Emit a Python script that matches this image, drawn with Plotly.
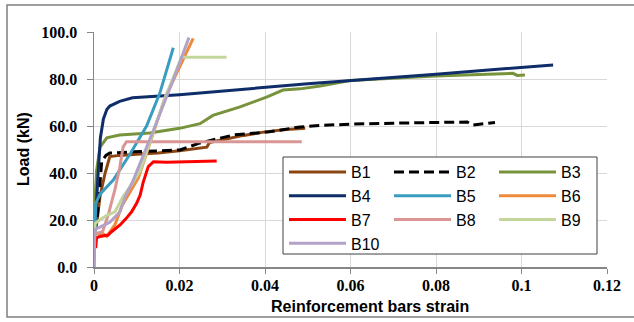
import plotly.graph_objects as go

# ---- data ----
names = ["B1", "B2", "B3", "B4", "B5", "B6", "B7", "B8", "B9", "B10"]

b1_x = [0, 0.0006, 0.0014, 0.0021, 0.0026, 0.0037, 0.006, 0.01, 0.015, 0.02, 0.025, 0.0264, 0.027, 0.035, 0.04, 0.045, 0.0494]
b1_y = [14, 18, 30, 36, 40, 47, 47.5, 48, 48.5, 49.5, 50.5, 51, 53, 56, 57.5, 58.5, 59]

b2_x = [0, 0.0008, 0.001, 0.0018, 0.0028, 0.0037, 0.0091, 0.0201, 0.0248, 0.0327, 0.0405, 0.0482, 0.0529, 0.0599, 0.07, 0.0873, 0.0885, 0.0938]
b2_y = [15, 22, 26, 45, 47.5, 48.5, 49, 49.8, 52.8, 56.2, 57.4, 59.6, 60.2, 60.8, 61.2, 61.7, 60.4, 61.5]

b3_x = [0, 0.0003, 0.0006, 0.0014, 0.003, 0.006, 0.013, 0.020, 0.0248, 0.0278, 0.034, 0.0405, 0.0442, 0.0482, 0.0529, 0.0599, 0.08, 0.098, 0.099, 0.1008]
b3_y = [20, 30, 41, 51, 55, 56.2, 57, 59, 61, 64.5, 68, 72.4, 75.3, 75.8, 77, 79.4, 81.3, 82.4, 81.5, 81.7]

b4_x = [0, 0.0004, 0.001, 0.0015, 0.0022, 0.003, 0.0037, 0.006, 0.009, 0.02, 0.05, 0.08, 0.1074]
b4_y = [16, 22, 41, 55, 63, 67, 68.5, 70.5, 72, 73.3, 78, 82, 86]

b5_x = [0, 0.0002, 0.0004, 0.0014, 0.0045, 0.0084, 0.0123, 0.0154, 0.01855]
b5_y = [0, 16, 27, 31, 37, 48, 60, 74, 93.3]

b6_x = [0, 0.0022, 0.003, 0.0049, 0.0065, 0.0104, 0.0166, 0.0232]
b6_y = [14, 14, 13, 18, 26, 38, 72, 97.3]

b7_x = [0.0004, 0.0006, 0.0014, 0.0033, 0.0041, 0.0061, 0.0076, 0.0088, 0.01, 0.0108, 0.0115, 0.0127, 0.0139, 0.017, 0.0287]
b7_y = [8, 12.4, 13, 13.6, 15, 17.9, 20.8, 23.5, 27.2, 30.6, 36, 42.7, 44.8, 44.6, 45.1]

b8_x = [0, 0.002, 0.0033, 0.0049, 0.006, 0.0068, 0.0076, 0.02, 0.0486]
b8_y = [14, 15, 22, 33, 42, 51, 53.3, 53.3, 53.3]

b9_x = [0, 0.0003, 0.003, 0.0049, 0.0068, 0.0088, 0.0108, 0.0166, 0.0205, 0.0217, 0.031]
b9_y = [14, 18.6, 22, 23.5, 30, 35, 41, 72, 89.3, 89.3, 89.3]

b10_x = [0, 0.0002, 0.0014, 0.0037, 0.0061, 0.0073, 0.0092, 0.0108, 0.0143, 0.0186, 0.0222]
b10_y = [0, 16, 17, 19, 23.5, 30, 37, 44, 60, 80, 97.6]

x_tickvals = [0, 0.02, 0.04, 0.06, 0.08, 0.1, 0.12]
x_ticktext = ["0", "0.02", "0.04", "0.06", "0.08", "0.1", "0.12"]
y_tickvals = [0, 20, 40, 60, 80, 100]
y_ticktext = ["0.0", "20.0", "40.0", "60.0", "80.0", "100.0"]

# ---- styles ----
series = [
    (b1_x, b1_y, "#8B4513", "solid", "legend"),
    (b2_x, b2_y, "#000000", "10px,5px", "legend2"),
    (b3_x, b3_y, "#77933C", "solid", "legend3"),
    (b4_x, b4_y, "#0F2D69", "solid", "legend"),
    (b5_x, b5_y, "#3A9CC0", "solid", "legend2"),
    (b6_x, b6_y, "#EE8A3A", "solid", "legend3"),
    (b7_x, b7_y, "#FF0000", "solid", "legend"),
    (b8_x, b8_y, "#D99694", "solid", "legend2"),
    (b9_x, b9_y, "#C3D69B", "solid", "legend3"),
    (b10_x, b10_y, "#B3A2C7", "solid", "legend"),
]

fig = go.Figure()
for name, (xs, ys, col, dash, lg) in zip(names, series):
    fig.add_trace(go.Scatter(x=xs, y=ys, mode="lines", name=name, legend=lg,
                             line=dict(color=col, width=3, dash=dash)))

W, H = 634, 322
L, R, T, B = 94, 27, 32, 55
pw, ph = W - L - R, H - T - B

def px_x(p):
    return (p - L) / pw

def px_y(p):
    return (H - B - p) / ph

tick_font = dict(family="Liberation Serif, DejaVu Serif, serif", size=16,
                 color="#000000", weight="bold")
leg_font = dict(family="Liberation Sans, Arial, sans-serif", size=16, color="#000000")
title_font = dict(family="Liberation Sans, Arial, sans-serif", size=16,
                  color="#000000", weight="bold")

fig.update_layout(
    width=W, height=H,
    margin=dict(l=L, r=R, t=T, b=B, autoexpand=False),
    paper_bgcolor="white", plot_bgcolor="white",
    xaxis=dict(range=[0, 0.12], tickvals=x_tickvals, ticktext=x_ticktext,
               showgrid=True, gridcolor="#D9D9D9", gridwidth=1,
               showline=True, linecolor="#868686", linewidth=1.5,
               ticks="outside", ticklen=5, tickcolor="#868686",
               tickfont=tick_font, zeroline=False, automargin=False,
               ticklabelstandoff=-2),
    yaxis=dict(range=[0, 100], tickvals=y_tickvals, ticktext=y_ticktext,
               showgrid=True, gridcolor="#D9D9D9", gridwidth=1,
               showline=True, linecolor="#868686", linewidth=1.5,
               ticks="outside", ticklen=6, tickcolor="#868686",
               tickfont=tick_font, zeroline=False, automargin=False,
               ticklabelstandoff=6),
    showlegend=True,
)

# axis titles
fig.add_annotation(text="Reinforcement bars strain", xref="paper", yref="paper",
                   x=px_x(370), y=px_y(306), showarrow=False, font=title_font,
                   xanchor="center", yanchor="middle")
fig.add_annotation(text="Load (kN)", xref="paper", yref="paper",
                   x=px_x(23), y=px_y(149), showarrow=False, font=title_font,
                   textangle=-90, xanchor="center", yanchor="middle")

leg_common = dict(bgcolor="rgba(0,0,0,0)", borderwidth=0, font=leg_font,
                  orientation="v", xanchor="left", yanchor="top",
                  itemwidth=57, tracegroupgap=0)
leg_top = px_y(155)
fig.update_layout(
    legend=dict(x=px_x(284), y=leg_top, **leg_common),
    legend2=dict(x=px_x(389), y=leg_top, **leg_common),
    legend3=dict(x=px_x(494), y=leg_top, **leg_common),
)

# legend frame
fig.add_shape(type="rect", xref="paper", yref="paper", layer="above",
              x0=px_x(283), x1=px_x(597), y0=px_y(254), y1=px_y(157),
              line=dict(color="#404040", width=1), fillcolor="white")
# outer chart border (right edge lies just outside the picture)
fig.add_shape(type="rect", xref="paper", yref="paper", layer="above",
              x0=px_x(7), x1=px_x(637), y0=px_y(317), y1=px_y(5),
              line=dict(color="#7F7F7F", width=1.5), fillcolor="rgba(0,0,0,0)")

fig.write_html("out.html",
               config={"displayModeBar": False, "staticPlot": True},
               post_script="document.body.style.margin='0';document.body.style.overflow='hidden';")
